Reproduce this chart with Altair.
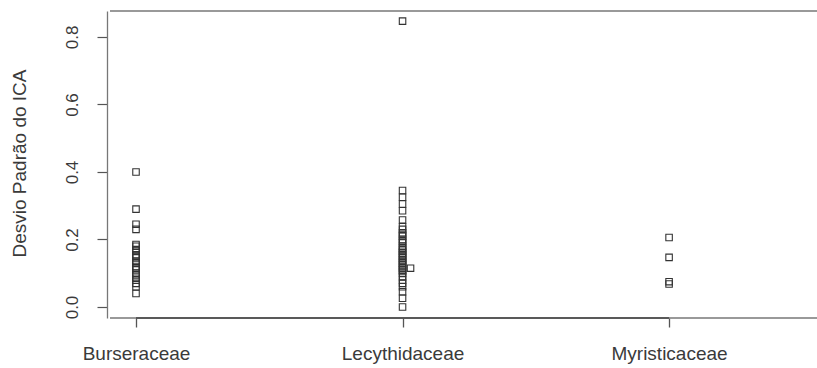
import altair as alt
import pandas as pd

# Standard deviation of ICA per tree family (strip chart)
families = ["Burseraceae", "Lecythidaceae", "Myristicaceae"]

burseraceae = [0.40, 0.29, 0.245, 0.23, 0.185, 0.18, 0.17, 0.165, 0.155, 0.15,
               0.145, 0.135, 0.13, 0.12, 0.115, 0.11, 0.10, 0.095, 0.085, 0.08,
               0.07, 0.06, 0.04]
lecythidaceae = [0.847, 0.345, 0.325, 0.305, 0.285, 0.258, 0.238, 0.23, 0.22,
                 0.215, 0.21, 0.20, 0.195, 0.19, 0.18, 0.175, 0.17, 0.165, 0.16,
                 0.155, 0.15, 0.145, 0.14, 0.135, 0.13, 0.125, 0.12, 0.115,
                 0.115, 0.11, 0.105, 0.10, 0.09, 0.08, 0.07, 0.06, 0.045,
                 0.026, 0.0]
myristicaceae = [0.206, 0.147, 0.075, 0.068]

y_ticks = [0.0, 0.2, 0.4, 0.6, 0.8]

# Build the long table; repeated values within a family are stacked sideways
rows = []
for idx, (name, vals) in enumerate(zip(families, [burseraceae, lecythidaceae, myristicaceae]), start=1):
    seen = {}
    for v in vals:
        k = seen.get(v, 0)
        seen[v] = k + 1
        rows.append({"family": name, "pos": idx + 0.03 * k, "sd": v})
df = pd.DataFrame(rows)

X_DOMAIN = [0.9024, 3.555]
Y_DOMAIN = [-0.0326, 0.877]
W, H = 707, 307
FONT = "Liberation Sans"
INK = "#3a3a3a"

label_expr = "datum.value == 1 ? 'Burseraceae' : datum.value == 2 ? 'Lecythidaceae' : 'Myristicaceae'"

x_scale = alt.Scale(domain=X_DOMAIN, nice=False, zero=False)
y_scale = alt.Scale(domain=Y_DOMAIN, nice=False, zero=False)

x_axis = alt.Axis(values=[1, 2, 3], labelExpr=label_expr, title=None,
                  grid=False, domain=False,
                  tickColor="#555555", tickSize=9, tickWidth=1.3,
                  labelPadding=17, labelFont=FONT, labelFontSize=19,
                  labelColor=INK, labelFlush=False, labelOverlap=False)

y_axis = alt.Axis(values=y_ticks, format=".1f", title="Desvio Padrão do ICA",
                  grid=False, domain=True, domainColor="#777777", domainWidth=1.3,
                  tickColor="#555555", tickSize=10, tickWidth=1.2, offset=3,
                  labelAngle=-90, labelAlign="center", labelBaseline="bottom",
                  labelPadding=16, labelFont=FONT, labelFontSize=17,
                  labelColor=INK, titleFont=FONT, titleFontSize=19,
                  titleFontWeight="normal", titleColor=INK, titleAngle=-90,
                  titleX=-88, titleY=152, titleAlign="center",
                  titleBaseline="middle")

points = alt.Chart(df).mark_point(
    shape="square", filled=False, size=42, strokeWidth=1.1, color="#333333", opacity=1
).encode(
    x=alt.X("pos:Q", scale=x_scale, axis=x_axis),
    y=alt.Y("sd:Q", scale=y_scale, axis=y_axis),
)

# Top and bottom edges of the plot frame (rules with only y span the full width)
frame = alt.Chart(pd.DataFrame({"a": [0]}))
top_line = frame.mark_rule(color="#777777", strokeWidth=1.3).encode(y=alt.value(0))
bottom_line = frame.mark_rule(color="#777777", strokeWidth=1.3).encode(y=alt.value(H))

# Axis line between the first and last category ticks
axis_x = alt.Chart(pd.DataFrame({"x1": [1], "x2": [3]})).mark_rule(
    color="#444444", strokeWidth=1.4
).encode(x=alt.X("x1:Q", scale=x_scale, axis=x_axis), x2="x2:Q", y=alt.value(H))

chart = alt.layer(points, top_line, bottom_line, axis_x).properties(
    width=W, height=H,
    padding={"left": 110, "top": 11, "right": 0, "bottom": 50},
    autosize=alt.AutoSizeParams(type="none"),
    background="white",
).configure_view(stroke="transparent", strokeWidth=0)

chart.save("out.html", embed_options={"renderer": "svg", "actions": False})
